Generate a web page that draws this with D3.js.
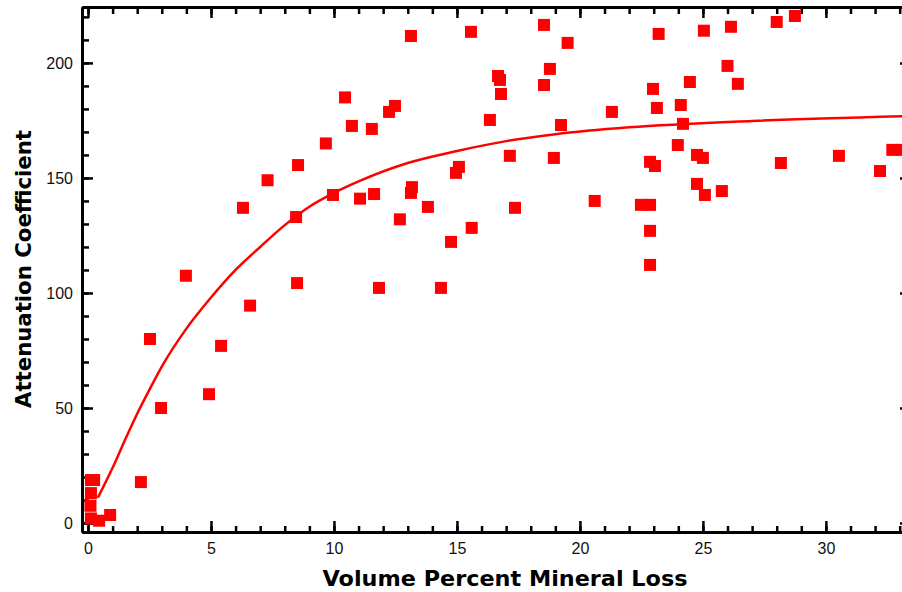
<!DOCTYPE html>
<html>
<head>
<meta charset="utf-8">
<script src="https://cdn.jsdelivr.net/npm/d3@7"></script>
<style>
    body { margin: 0; background: #fff; }
    #chart { width: 902px; height: 592px; overflow: hidden; }
    .axis text { font-family: "Liberation Sans", Arial, sans-serif; font-size: 16px; fill: #111; }
    .axis path { stroke: #000; stroke-width: 3; }
    .axis line { stroke: #000; stroke-width: 2.5; }
    .axis-title { font-family: "DejaVu Sans", Verdana, sans-serif; font-weight: bold; font-size: 21px; fill: #000; }
</style>
</head>
<body>
<div id="chart"></div>
<script>

// measured points: volume percent mineral loss vs attenuation coefficient
const volumeLoss = [
    0.12, 0.25, 0.12, 0.1, 0.12, 0.45, 0.9,
    2.15, 2.52, 2.97, 3.98, 4.92, 5.41, 6.59, 8.5,
    6.3, 7.3, 8.54, 9.67, 10.45, 10.73, 8.46, 9.96, 11.06,
    13.13, 15.57, 18.54, 19.5, 18.78, 16.67, 16.75, 16.79, 18.54, 12.48, 12.24, 11.54,
    16.34, 19.23, 21.3, 17.15, 18.94, 15.08, 14.96, 11.63, 13.17, 13.13, 13.82, 12.68,
    17.36, 20.6, 15.6, 14.76, 11.83, 14.35,
    23.2, 25.04, 26.14, 28.0, 28.74, 26.0, 24.47, 26.42, 22.97, 23.13, 24.1, 24.19,
    23.98, 24.76, 25.0, 22.85, 23.05, 28.17, 30.53, 32.7, 33.1, 32.2, 24.76, 25.08,
    25.77, 22.48, 22.85, 22.85, 22.85
];
const attenuation = [
    18.7, 18.7, 13, 7.5, 2, 1, 3.5,
    17.8, 80, 50, 107.5, 56, 77, 94.5, 104.3,
    137, 149, 155.6, 165, 185, 172.6, 133, 142.6, 141,
    211.7, 213.5, 216.5, 208.7, 197.4, 194.3, 192.6, 186.5, 190.4, 181.3, 178.7, 171.3,
    175.2, 173, 178.7, 159.6, 158.7, 154.8, 152.2, 143, 146, 143.5, 137.4, 132,
    137, 140, 128.3, 122.2, 102.2, 102.2,
    212.6, 214, 215.7, 217.8, 220.4, 198.7, 191.7, 190.9, 188.7, 180.4, 181.7, 173.5,
    164.3, 160, 158.7, 157, 155.2, 156.5, 159.6, 162.2, 162.2, 153, 147.4, 142.6,
    144.3, 138.3, 138.3, 127, 112.2
];

// fitted curve
const fitX = [0.4, 1, 1.5, 2, 2.5, 3, 4, 5, 6, 7, 8, 9, 10, 11, 13, 15, 17, 19, 22, 27, 33.6];
const fitY = [11, 24, 36, 47.5, 58, 68, 84.5, 98, 110, 120, 129.5, 137.5, 143.5, 148.5, 156.5, 161.7, 166, 169, 172, 174.8, 177];

const xMajorTicks = [0, 5, 10, 15, 20, 25, 30];
const xMinorTicks = d3.range(0, 34, 1);
const yMajorTicks = [0, 50, 100, 150, 200];
const yMinorTicks = d3.range(0, 230, 10);

class ScatterFit {

    constructor(parentElement){
        this.parentElement = parentElement;
        this.points = volumeLoss.map((v, i) => ({x: v, y: attenuation[i]}));
        this.fit = fitX.map((v, i) => ({x: v, y: fitY[i]}));
        this.initVis();
    }

    initVis(){
        let vis = this;

        vis.margin = {top: 7, right: 0, bottom: 60, left: 82};
        vis.width = 829;
        vis.height = 525;

        vis.svg = d3.select("#" + vis.parentElement).append("svg")
            .attr("width", 902)
            .attr("height", 592)
            .append("g")
            .attr("transform", `translate(${vis.margin.left}, ${vis.margin.top})`);

        vis.x = d3.scaleLinear()
            .domain([-0.244, 33.46])
            .range([0, vis.width]);

        vis.y = d3.scaleLinear()
            .domain([-3.9, 224.3])
            .range([vis.height, 0]);

        vis.drawAxes();
        vis.updateVis();
    }

    drawAxes(){
        let vis = this;
        let none = () => "";

        // minor ticks first, majors on top
        vis.svg.append("g").attr("class", "axis")
            .call(d3.axisLeft(vis.y).tickValues(yMinorTicks).tickSize(-7).tickFormat(none).tickSizeOuter(0));
        vis.svg.append("g").attr("class", "axis")
            .call(d3.axisLeft(vis.y).tickValues(yMajorTicks).tickSize(-11).tickPadding(9).tickSizeOuter(0));

        vis.svg.append("g").attr("class", "axis")
            .attr("transform", `translate(${vis.width}, 0)`)
            .call(d3.axisRight(vis.y).tickValues(yMinorTicks).tickSize(-7).tickFormat(none).tickSizeOuter(0));
        vis.svg.append("g").attr("class", "axis")
            .attr("transform", `translate(${vis.width}, 0)`)
            .call(d3.axisRight(vis.y).tickValues(yMajorTicks).tickSize(-11).tickFormat(none).tickSizeOuter(0));

        vis.svg.append("g").attr("class", "axis")
            .attr("transform", `translate(0, ${vis.height})`)
            .call(d3.axisBottom(vis.x).tickValues(xMinorTicks).tickSize(-6).tickFormat(none).tickSizeOuter(0));
        vis.svg.append("g").attr("class", "axis")
            .attr("transform", `translate(0, ${vis.height})`)
            .call(d3.axisBottom(vis.x).tickValues(xMajorTicks).tickSize(-11).tickPadding(11).tickSizeOuter(0));

        vis.svg.append("g").attr("class", "axis")
            .call(d3.axisTop(vis.x).tickValues(xMinorTicks).tickSize(-7).tickFormat(none).tickSizeOuter(0));
        vis.svg.append("g").attr("class", "axis")
            .call(d3.axisTop(vis.x).tickValues(xMajorTicks).tickSize(-11).tickFormat(none).tickSizeOuter(0));

        // titles
        vis.svg.append("text")
            .attr("class", "axis-title")
            .attr("x", 505 - vis.margin.left)
            .attr("y", 586 - vis.margin.top)
            .attr("text-anchor", "middle")
            .attr("textLength", 365)
            .attr("lengthAdjust", "spacingAndGlyphs")
            .text("Volume Percent Mineral Loss");

        vis.svg.append("text")
            .attr("class", "axis-title")
            .attr("transform", `translate(${31 - vis.margin.left}, ${269 - vis.margin.top}) rotate(-90)`)
            .attr("text-anchor", "middle")
            .attr("textLength", 278)
            .attr("lengthAdjust", "spacingAndGlyphs")
            .text("Attenuation Coefficient");
    }

    updateVis(){
        let vis = this;

        let line = d3.line()
            .x(d => vis.x(d.x))
            .y(d => vis.y(d.y))
            .curve(d3.curveMonotoneX);

        vis.svg.append("path")
            .datum(vis.fit)
            .attr("d", line)
            .attr("fill", "none")
            .attr("stroke", "#ff0000")
            .attr("stroke-width", 2.5);

        vis.svg.selectAll(".pt")
            .data(vis.points)
            .join("rect")
            .attr("class", "pt")
            .attr("x", d => vis.x(d.x) - 6)
            .attr("y", d => vis.y(d.y) - 6)
            .attr("width", 12)
            .attr("height", 12)
            .attr("fill", "#ff0000");
    }
}

new ScatterFit("chart");

</script>
</body>
</html>
